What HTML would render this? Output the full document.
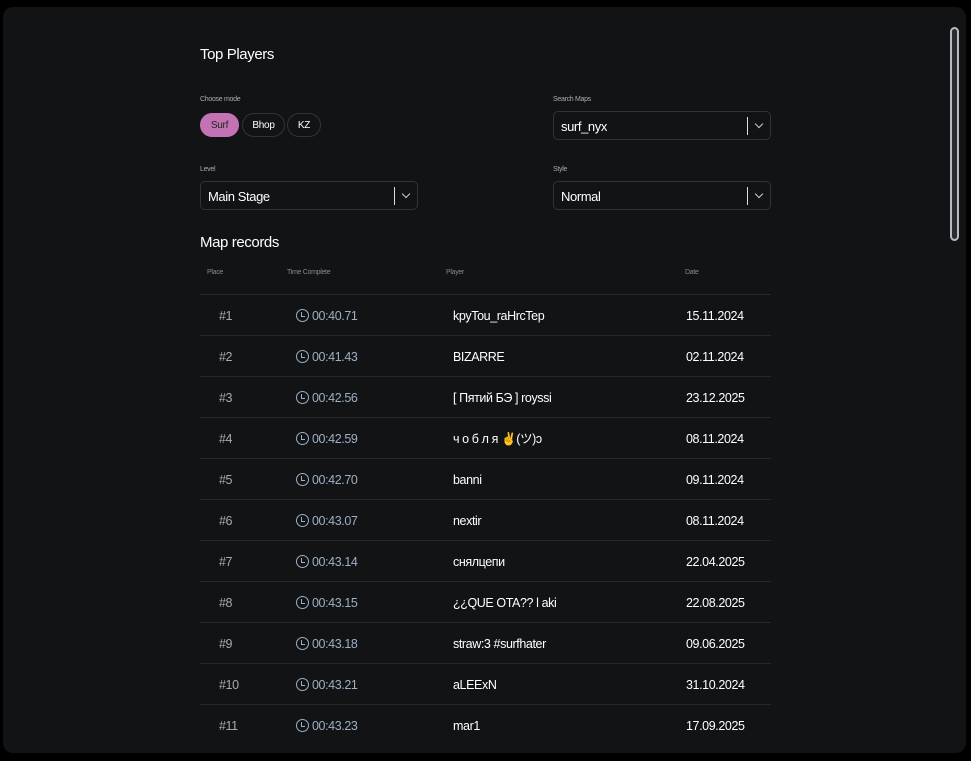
<!DOCTYPE html>
<html><head><meta charset="utf-8"><style>
*{margin:0;padding:0;box-sizing:border-box}
body{width:971px;height:761px;background:#000;position:relative;overflow:hidden;font-family:"Liberation Sans","Noto Sans CJK JP",sans-serif;color:#fff}
.panel{position:absolute;left:3px;top:7px;width:963px;height:746px;background:#121315;border-radius:10px}
.a{position:absolute;white-space:nowrap}
.lbl{font-size:7px;color:#aaa;letter-spacing:-0.3px}
.pill{position:absolute;top:113px;height:24px;border-radius:12px;border:1px solid #333;font-size:10px;line-height:23px;text-align:center;letter-spacing:-0.3px}
.sel{position:absolute;width:218px;height:29px;border:1px solid #333;border-radius:5px}
.sel span{position:absolute;left:7px;top:7px;font-size:13px;letter-spacing:-0.4px;line-height:15px}
.sel i{position:absolute;right:22px;top:5px;width:1px;height:18px;background:#ddd}
.sel b{position:absolute;right:8px;top:9px;width:6px;height:6px;border-right:1.3px solid #ccc;border-bottom:1.3px solid #ccc;transform:rotate(45deg)}
.row{position:absolute;left:200px;width:571px;height:41px;border-top:1px solid #26282b;font-size:12.5px;letter-spacing:-0.4px}
.row div{position:absolute;top:14px;line-height:14px;height:14px;overflow:visible}
.clk{position:absolute;left:96px;top:14px;width:13px;height:13px;border:1.5px solid #9db0c4;border-radius:50%}
.clk:after{content:"";position:absolute;left:4px;top:1.5px;width:3px;height:4px;border-left:1.5px solid #9db0c4;border-bottom:1.5px solid #9db0c4}
.t{font-size:15px;letter-spacing:-0.4px}
</style></head><body>
<div class="panel"></div>
<div class="a" style="left:950px;top:27px;width:9px;height:214px;border:2px solid #b8bcc2;border-radius:5px;background:#2a2c2f"></div>
<div class="a t" style="left:200px;top:46px">Top Players</div>
<div class="a lbl" style="left:200px;top:96px">Choose mode</div>
<div class="pill" style="left:200px;width:39px;background:#c373b3;border-color:#c373b3;color:#222">Surf</div>
<div class="pill" style="left:242px;width:43px">Bhop</div>
<div class="pill" style="left:287px;width:34px">KZ</div>
<div class="a lbl" style="left:553px;top:96px">Search Maps</div>
<div class="sel" style="left:553px;top:111px"><span>surf_nyx</span><i></i><b></b></div>
<div class="a lbl" style="left:200px;top:166px">Level</div>
<div class="sel" style="left:200px;top:181px"><span>Main Stage</span><i></i><b></b></div>
<div class="a lbl" style="left:553px;top:166px">Style</div>
<div class="sel" style="left:553px;top:181px"><span>Normal</span><i></i><b></b></div>
<div class="a t" style="left:200px;top:234px">Map records</div>
<div class="a lbl" style="left:207px;top:269px;color:#888">Place</div>
<div class="a lbl" style="left:287px;top:269px;color:#888">Time Complete</div>
<div class="a lbl" style="left:446px;top:269px;color:#888">Player</div>
<div class="a lbl" style="left:685px;top:269px;color:#888">Date</div>
<div class="row" style="top:294px"><div style="left:19px;color:#aaa">#1</div><span class="clk"></span><div style="left:112px;color:#9db0c4">00:40.71</div><div style="left:253px">kpyTou_raHrcTep</div><div style="left:486px">15.11.2024</div></div>
<div class="row" style="top:335px"><div style="left:19px;color:#aaa">#2</div><span class="clk"></span><div style="left:112px;color:#9db0c4">00:41.43</div><div style="left:253px">BIZARRE</div><div style="left:486px">02.11.2024</div></div>
<div class="row" style="top:376px"><div style="left:19px;color:#aaa">#3</div><span class="clk"></span><div style="left:112px;color:#9db0c4">00:42.56</div><div style="left:253px">[ Пятий БЭ ] royssi</div><div style="left:486px">23.12.2025</div></div>
<div class="row" style="top:417px"><div style="left:19px;color:#aaa">#4</div><span class="clk"></span><div style="left:112px;color:#9db0c4">00:42.59</div><div style="left:253px">ч о б л я ✌(ツ)ↄ</div><div style="left:486px">08.11.2024</div></div>
<div class="row" style="top:458px"><div style="left:19px;color:#aaa">#5</div><span class="clk"></span><div style="left:112px;color:#9db0c4">00:42.70</div><div style="left:253px">banni</div><div style="left:486px">09.11.2024</div></div>
<div class="row" style="top:499px"><div style="left:19px;color:#aaa">#6</div><span class="clk"></span><div style="left:112px;color:#9db0c4">00:43.07</div><div style="left:253px">nextir</div><div style="left:486px">08.11.2024</div></div>
<div class="row" style="top:540px"><div style="left:19px;color:#aaa">#7</div><span class="clk"></span><div style="left:112px;color:#9db0c4">00:43.14</div><div style="left:253px">снялцепи</div><div style="left:486px">22.04.2025</div></div>
<div class="row" style="top:581px"><div style="left:19px;color:#aaa">#8</div><span class="clk"></span><div style="left:112px;color:#9db0c4">00:43.15</div><div style="left:253px">¿¿QUE OTA?? l aki</div><div style="left:486px">22.08.2025</div></div>
<div class="row" style="top:622px"><div style="left:19px;color:#aaa">#9</div><span class="clk"></span><div style="left:112px;color:#9db0c4">00:43.18</div><div style="left:253px">straw:3 #surfhater</div><div style="left:486px">09.06.2025</div></div>
<div class="row" style="top:663px"><div style="left:19px;color:#aaa">#10</div><span class="clk"></span><div style="left:112px;color:#9db0c4">00:43.21</div><div style="left:253px">aLEExN</div><div style="left:486px">31.10.2024</div></div>
<div class="row" style="top:704px"><div style="left:19px;color:#aaa">#11</div><span class="clk"></span><div style="left:112px;color:#9db0c4">00:43.23</div><div style="left:253px">mar1</div><div style="left:486px">17.09.2025</div></div>
</body></html>
